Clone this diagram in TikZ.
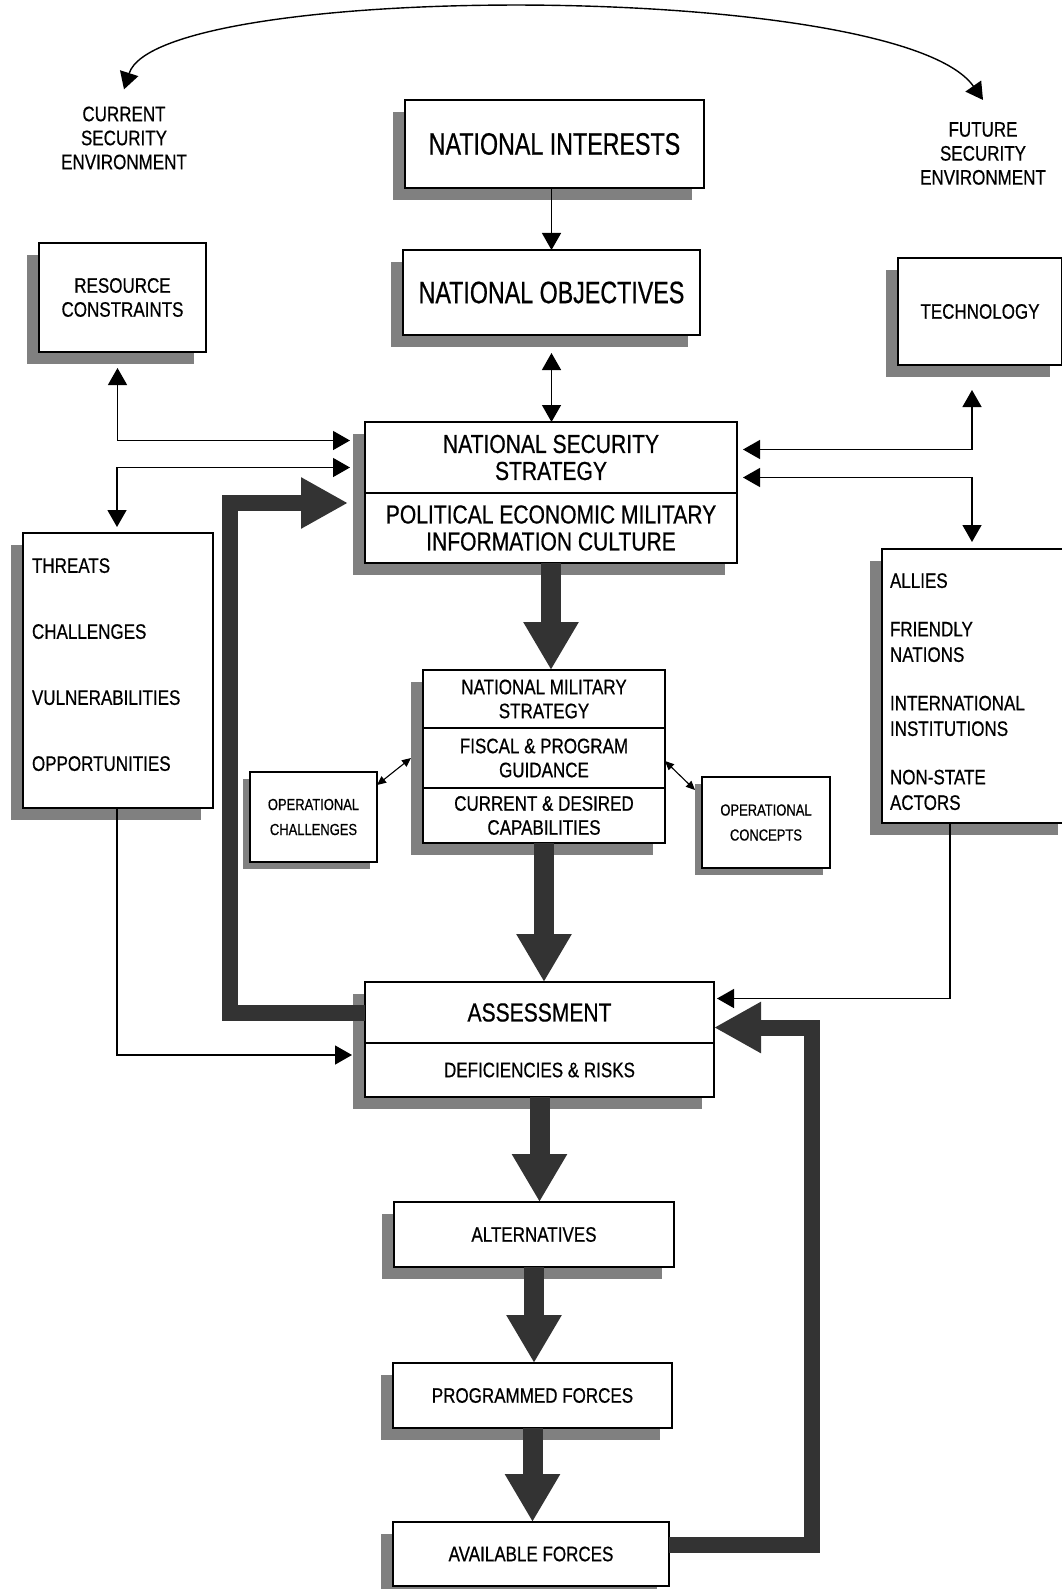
\documentclass[tikz,border=0pt]{standalone}
\usepackage{fontspec}
\setmainfont{Liberation Sans}[FakeStretch=0.81,FakeBold=0.6]
\newfontfamily\condfont{Liberation Sans}[FakeStretch=0.75,FakeBold=0.6]
\usetikzlibrary{arrows.meta,positioning,shadows}

\begin{document}
\begin{tikzpicture}[x=1pt,y=-1pt,>={Triangle[length=17pt,width=19pt]}]
        \tikzset{frame/.style={draw, fill=white, rectangle, line width=1.2pt, align=center, inner sep=2pt, outer sep=0pt},
        box/.style={frame, font=\fontsize{21}{24}\selectfont,
            general shadow={fill=black!50, shadow xshift=-12pt, shadow yshift=-12pt}},
        bigbox/.style={box, font=\condfont\fontsize{31}{34}\selectfont},
        nssbox/.style={box, font=\fontsize{26}{27}\selectfont},
        opbox/.style={frame, font=\fontsize{16}{25}\selectfont, minimum width=127pt, minimum height=90pt,
            general shadow={fill=black!50, shadow xshift=-7pt, shadow yshift=-7pt}},
        listbox/.style={box, align=left, inner xsep=9pt},
        envtext/.style={align=center, inner sep=2pt, font=\fontsize{21}{24}\selectfont},
        link/.style={line width=1.4pt},
        oplink/.style={line width=1.1pt, {Triangle[length=9pt,width=8pt]}-{Triangle[length=9pt,width=8pt]}},
        flow/.style={line width=20pt, draw=black!80, -{Triangle[length=48pt,width=52pt]}},
        loopflow/.style={line width=16pt, line join=miter, draw=black!80, -{Triangle[length=47pt,width=48pt]}}
        }
        \useasboundingbox (0,0) rectangle (1061,1589);
%% top row
        \node [envtext] (cur) at (124,138) {CURRENT\\SECURITY\\ENVIRONMENT};
        \node [envtext] (fut) at (983,153.5) {FUTURE\\SECURITY\\ENVIRONMENT};
        \node [bigbox, minimum width=299pt, minimum height=88pt] (ni) at (554.5,144) {NATIONAL INTERESTS};
        \node [bigbox, minimum width=297pt, minimum height=85pt, below=62pt of ni, xshift=-3pt] (no) {NATIONAL OBJECTIVES};
        \node [box, minimum width=167pt, minimum height=109pt] (rc) at (122.5,297.5) {RESOURCE\\CONSTRAINTS};
        \node [box, minimum width=164pt, minimum height=107pt] (tech) at (980,311.5) {TECHNOLOGY};
%% strategy column
        \node [nssbox, minimum width=372pt, minimum height=71pt, below=87pt of no, xshift=-0.5pt] (nss) {NATIONAL SECURITY\\STRATEGY};
        \node [nssbox, minimum width=372pt, minimum height=70pt, below=0pt of nss] (elements) {POLITICAL ECONOMIC MILITARY\\INFORMATION CULTURE};
        \node [box, minimum width=242pt, minimum height=58pt, below=107pt of elements, xshift=-7pt] (nms) {NATIONAL MILITARY\\STRATEGY};
        \node [box, minimum width=242pt, minimum height=60pt, below=0pt of nms] (fiscal) {FISCAL \& PROGRAM\\GUIDANCE};
        \node [box, minimum width=242pt, minimum height=55pt, below=0pt of fiscal] (capab) {CURRENT \& DESIRED\\CAPABILITIES};
        \node [nssbox, minimum width=349pt, minimum height=61pt, below=139pt of capab, xshift=-4.5pt] (assess) {ASSESSMENT};
        \node [box, minimum width=349pt, minimum height=54pt, below=0pt of assess] (risks) {DEFICIENCIES \& RISKS};
        \node [box, minimum width=280pt, minimum height=65pt, below=105pt of risks, xshift=-5.5pt] (alt) {ALTERNATIVES};
        \node [box, minimum width=279pt, minimum height=65pt, below=96pt of alt, xshift=-1.5pt] (prog) {PROGRAMMED FORCES};
        \node [box, minimum width=276pt, minimum height=64pt, below=94pt of prog, xshift=-1.5pt] (avail) {AVAILABLE FORCES};
%% side boxes
        \node [listbox, text width=172pt, minimum height=275pt, text depth=210pt] (threats) at (118,670.5) {THREATS\\[42pt]CHALLENGES\\[42pt]VULNERABILITIES\\[42pt]OPPORTUNITIES};
        \node [listbox, text width=172pt, minimum height=274pt, inner xsep=8pt, text height=26pt, font=\fontsize{21}{25.5}\selectfont] (allies) at (976,686) {ALLIES\\[23pt]FRIENDLY\\NATIONS\\[23pt]INTERNATIONAL\\INSTITUTIONS\\[23pt]NON-STATE\\ACTORS};
        \node [opbox] (opchall) at (313.5,817) {OPERATIONAL\\CHALLENGES};
        \node [opbox, minimum width=128pt, minimum height=91pt] (opconc) at (766,822.5) {OPERATIONAL\\CONCEPTS};
%% paths
        \draw [link,<->] ([yshift=15pt]cur.north) .. controls +(35,-109) and +(-84,-120) .. ([yshift=20pt]fut.north);
        \draw [link,->] (no.north |- ni.south) -- (no.north);
        \draw [link,<->, shorten <=18pt] (no.south) -- (no.south |- nss.north);
        \draw [link,<->, shorten <=16pt, shorten >=15pt] ([xshift=-5pt]rc.south) |- ([yshift=17pt]nss.west);
        \draw [link,<->, shorten <=6pt, shorten >=15pt] ([xshift=-1pt]threats.north) |- ([yshift=-10pt]nss.west);
        \draw [link,<->, shorten <=25pt, shorten >=6pt] ([xshift=-8pt]tech.south) |- ([yshift=8pt]nss.east);
        \draw [link,<->, shorten <=6pt, shorten >=7pt] ([yshift=-20pt]nss.east) -| ([xshift=-4pt]allies.north);
        \draw [link,->, shorten >=13pt] ([xshift=-1pt]threats.south) |- ([yshift=15pt]risks.west);
        \draw [link,->, shorten >=3pt] ([xshift=-26pt]allies.south) |- ([yshift=14pt]assess.east);
        \draw [oplink] ([yshift=-13pt]opchall.north east) -- ([xshift=-12pt]fiscal.west);
        \draw [oplink] ([xshift=-7pt,yshift=-13pt]opconc.north west) -- ([yshift=-3pt]fiscal.east);
        \draw [flow] (elements.south) -- (elements.south |- nms.north);
        \draw [flow] (capab.south) -- (capab.south |- assess.north);
        \draw [flow] (risks.south) -- (risks.south |- alt.north);
        \draw [flow] (alt.south) -- (alt.south |- prog.north);
        \draw [flow] (prog.south) -- (prog.south |- avail.north);
        \draw [loopflow, shorten >=17pt] (assess.west) -- ++(-135,0) |- ([yshift=25pt]elements.west);
        \draw [loopflow] ([yshift=9pt]avail.east) -- ++(143,0) |- ([yshift=-15pt]assess.east);
\end{tikzpicture}
\end{document}
